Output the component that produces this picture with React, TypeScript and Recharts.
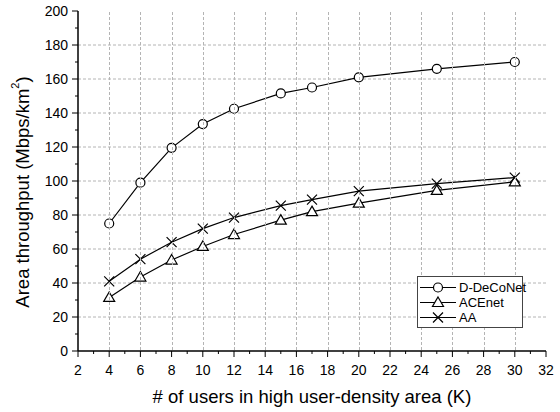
import React from 'react';
import { LineChart, Line, XAxis, YAxis, Legend } from 'recharts';

const users = [4, 6, 8, 10, 12, 15, 17, 20, 25, 30];
const dDeCoNet = [75, 99, 119.5, 133.5, 142.5, 151.5, 155, 161, 166, 170];
const acenet = [31.5, 43.5, 53.5, 61.5, 68.5, 77, 82, 87, 94.5, 99.5];
const aa = [41, 54, 64, 72, 78.5, 85.5, 89, 94, 98.5, 102];

const xMajor = [2, 4, 6, 8, 10, 12, 14, 16, 18, 20, 22, 24, 26, 28, 30, 32];
const xMinor = [3, 5, 7, 9, 11, 13, 15, 17, 19, 21, 23, 25, 27, 29, 31];
const yMajor = [0, 20, 40, 60, 80, 100, 120, 140, 160, 180, 200];
const yMinor = [10, 30, 50, 70, 90, 110, 130, 150, 170, 190];

const data = users.map((u, i) => ({ users: u, dDeCoNet: dDeCoNet[i], acenet: acenet[i], aa: aa[i] }));

const FONT = '"Liberation Sans", Arial, sans-serif';
const W = 560;
const H = 412;
const MARGIN = { top: 11, right: 14, bottom: 21, left: 0 };
const X_AXIS_H = 40;
const Y_AXIS_W = 78;
const PLOT_TOP = MARGIN.top;
const GRID = '#b4b4b4';
const DASH = '3,2';

const crisp = (v: number) => Math.round(v) + 0.5;
const isInner = (v: number, list: number[]) => v !== list[0] && v !== list[list.length - 1];

// horizontal grid lines as flat segments across the x domain
const xEdges = [xMajor[0], xMajor[xMajor.length - 1]];
const hGrid = yMajor.filter((v) => isInner(v, yMajor)).map((v) => xEdges.map((x) => ({ users: x, level: v })));

const Circle = ({ cx, cy }: any) => (
  <circle cx={cx} cy={cy} r={4.5} fill="#fff" stroke="#000" strokeWidth={1.2} />
);

const Triangle = ({ cx, cy }: any) => (
  <path
    d={`M${cx},${cy - 5.5} L${cx + 5.5},${cy + 4} L${cx - 5.5},${cy + 4} Z`}
    fill="#fff"
    stroke="#000"
    strokeWidth={1.2}
  />
);

const Cross = ({ cx, cy }: any) => (
  <path
    d={`M${cx - 5},${cy - 5} L${cx + 5},${cy + 5} M${cx - 5},${cy + 5} L${cx + 5},${cy - 5}`}
    stroke="#000"
    strokeWidth={1.2}
  />
);

// bottom axis ticks also carry the vertical grid lines
const XTick = ({ x, y, payload }: any) => {
  const major = xMajor.includes(payload.value);
  return (
    <g>
      {major && isInner(payload.value, xMajor) && (
        <path d={`M${crisp(x)},${PLOT_TOP + 1}V${y - 1}`} stroke={GRID} strokeWidth={1} fill="none" strokeDasharray={DASH} />
      )}
      <line x1={x} x2={x} y1={y} y2={y + (major ? 6 : 3)} stroke="#000" />
      {major && (
        <text x={x} y={y + 24} textAnchor="middle" fontSize={14} fontFamily={FONT} fill="#000">
          {payload.value}
        </text>
      )}
    </g>
  );
};

const YTick = ({ x, y, payload }: any) => {
  const major = yMajor.includes(payload.value);
  return (
    <g>
      <line x1={x} x2={x - (major ? 6 : 3)} y1={y} y2={y} stroke="#000" />
      {major && (
        <text x={x - 10} y={y + 5} textAnchor="end" fontSize={14} fontFamily={FONT} fill="#000">
          {payload.value}
        </text>
      )}
    </g>
  );
};

const YTitle = ({ viewBox }: any) => {
  const cx = viewBox.x + 22;
  const cy = viewBox.y + viewBox.height / 2 + 11;
  return (
    <text
      x={cx}
      y={cy}
      transform={`rotate(-90 ${cx} ${cy})`}
      textAnchor="middle"
      dominantBaseline="central"
      fontSize={18.5}
      fontFamily={FONT}
      fill="#000"
    >
      Area throughput (Mbps/km
      <tspan fontSize={11} dy={-7}>2</tspan>
      <tspan dy={7}>)</tspan>
    </text>
  );
};

const XTitle = ({ viewBox }: any) => (
  <text
    x={viewBox.x + viewBox.width / 2}
    y={viewBox.y + 52}
    textAnchor="middle"
    fontSize={18.5}
    fontFamily={FONT}
    fill="#000"
  >
    # of users in high user-density area (K)
  </text>
);

const legendItems = [
  { name: 'D-DeCoNet', Marker: Circle },
  { name: 'ACEnet', Marker: Triangle },
  { name: 'AA', Marker: Cross },
];

const LegendBox = () => (
  <div
    style={{
      boxSizing: 'border-box',
      width: 106,
      height: 52,
      border: '1px solid #444',
      background: '#fff',
      padding: '3px 0 0 1px',
      fontFamily: FONT,
      fontSize: 13,
      lineHeight: '15px',
      whiteSpace: 'nowrap',
    }}
  >
    {legendItems.map(({ name, Marker }) => (
      <div key={name} style={{ display: 'flex', alignItems: 'center', height: 15 }}>
        <svg width={38} height={15} style={{ flex: 'none' }}>
          <line x1={1} x2={37} y1={7.5} y2={7.5} stroke="#000" strokeWidth={1.2} />
          <Marker cx={19} cy={7.5} />
        </svg>
        <span style={{ marginLeft: 2 }}>{name}</span>
      </div>
    ))}
  </div>
);

export default function App() {
  const xTicks = [...xMajor, ...xMinor].sort((a, b) => a - b);
  const yTicks = [...yMajor, ...yMinor].sort((a, b) => a - b);
  return (
    <div style={{ position: 'absolute', left: 0, top: 0, background: '#fff' }}>
      <LineChart width={W} height={H} data={data} margin={MARGIN}>
        <XAxis
          dataKey="users"
          type="number"
          domain={[2, 32]}
          ticks={xTicks}
          interval={0}
          tickSize={0}
          tickMargin={0}
          tickLine={false}
          tick={<XTick />}
          height={X_AXIS_H}
          stroke="#000"
          strokeWidth={1.5}
          label={<XTitle />}
          allowDataOverflow
        />
        <XAxis xAxisId="top" orientation="top" type="number" domain={[2, 32]} tick={false} tickLine={false} height={0} stroke="#000" strokeWidth={1.5} />
        <YAxis
          type="number"
          domain={[0, 200]}
          ticks={yTicks}
          interval={0}
          tickSize={0}
          tickMargin={0}
          tickLine={false}
          tick={<YTick />}
          width={Y_AXIS_W}
          stroke="#000"
          strokeWidth={1.5}
          label={<YTitle />}
          allowDataOverflow
        />
        <YAxis yAxisId="right" orientation="right" type="number" domain={[0, 200]} tick={false} tickLine={false} width={0} stroke="#000" strokeWidth={1.5} />
        <Legend
          layout="vertical"
          align="center"
          verticalAlign="middle"
          content={<LegendBox />}
          wrapperStyle={{ left: 417, top: 276, width: 106 }}
        />
        {hGrid.map((seg) => (
          <Line
            key={`grid-${seg[0].level}`}
            data={seg}
            dataKey="level"
            stroke={GRID}
            strokeWidth={1}
            strokeDasharray={DASH}
            dot={false}
            activeDot={false}
            legendType="none"
            isAnimationActive={false}
          />
        ))}
        <Line dataKey="dDeCoNet" stroke="#000" strokeWidth={1.2} dot={<Circle />} activeDot={false} isAnimationActive={false} />
        <Line dataKey="acenet" stroke="#000" strokeWidth={1.2} dot={<Triangle />} activeDot={false} isAnimationActive={false} />
        <Line dataKey="aa" stroke="#000" strokeWidth={1.2} dot={<Cross />} activeDot={false} isAnimationActive={false} />
      </LineChart>
    </div>
  );
}
